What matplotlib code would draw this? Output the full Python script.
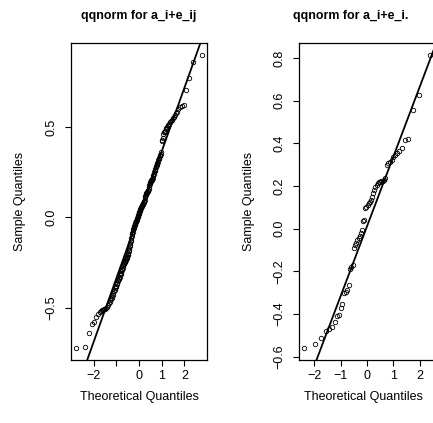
import numpy as np
import matplotlib.pyplot as plt
from statistics import NormalDist

plt.rcParams['font.family'] = ['Liberation Sans', 'DejaVu Sans']

# === данные ===
# левая панель: a_i+e_ij (180 точек, уже отсортированы)
left_sample = [
    -0.725, -0.720, -0.640, -0.588, -0.578, -0.550, -0.535, -0.525, -0.520, -0.515,
    -0.512, -0.508, -0.505, -0.500, -0.495, -0.488, -0.475, -0.468, -0.460, -0.452,
    -0.445, -0.438, -0.430, -0.420, -0.410, -0.400, -0.392, -0.385, -0.378, -0.370,
    -0.362, -0.355, -0.348, -0.342, -0.335, -0.328, -0.322, -0.315, -0.308, -0.300,
    -0.292, -0.285, -0.278, -0.270, -0.262, -0.258, -0.255, -0.249, -0.245, -0.240,
    -0.235, -0.230, -0.225, -0.220, -0.215, -0.208, -0.202, -0.195, -0.188, -0.180,
    -0.170, -0.161, -0.151, -0.142, -0.133, -0.123, -0.114, -0.104, -0.095, -0.087,
    -0.079, -0.072, -0.065, -0.059, -0.053, -0.047, -0.042, -0.037, -0.032, -0.027,
    -0.023, -0.019, -0.014, -0.009, -0.003, 0.003, 0.009, 0.014, 0.019, 0.023,
    0.028, 0.032, 0.037, 0.042, 0.047, 0.050, 0.052, 0.056, 0.060, 0.064,
    0.068, 0.072, 0.075, 0.078, 0.082, 0.087, 0.092, 0.097, 0.110, 0.118,
    0.123, 0.128, 0.133, 0.137, 0.139, 0.141, 0.144, 0.148, 0.153, 0.158,
    0.170, 0.177, 0.183, 0.189, 0.194, 0.199, 0.202, 0.205, 0.209, 0.214,
    0.220, 0.226, 0.233, 0.240, 0.252, 0.258, 0.264, 0.270, 0.276, 0.282,
    0.288, 0.294, 0.300, 0.308, 0.315, 0.322, 0.330, 0.338, 0.345, 0.352,
    0.360, 0.420, 0.430, 0.440, 0.460, 0.470, 0.475, 0.480, 0.488, 0.495,
    0.500, 0.505, 0.510, 0.518, 0.525, 0.532, 0.540, 0.550, 0.558, 0.565,
    0.575, 0.585, 0.600, 0.610, 0.614, 0.620, 0.705, 0.772, 0.858, 0.900,
]
# правая панель: a_i+e_i. (60 точек)
right_sample = [
    -0.561, -0.540, -0.512, -0.480, -0.472, -0.462, -0.436, -0.410, -0.405, -0.370,
    -0.355, -0.300, -0.295, -0.290, -0.265, -0.190, -0.178, -0.170, -0.090, -0.075,
    -0.065, -0.055, -0.045, -0.035, -0.020, -0.005, 0.035, 0.040, 0.095, 0.103,
    0.110, 0.119, 0.127, 0.135, 0.150, 0.166, 0.181, 0.195, 0.205, 0.213,
    0.218, 0.220, 0.223, 0.225, 0.228, 0.236, 0.300, 0.307, 0.315, 0.322,
    0.337, 0.347, 0.355, 0.365, 0.380, 0.415, 0.420, 0.558, 0.628, 0.816,
]

# qqline (intercept, slope)
left_line = (0.013, 0.352)
right_line = (0.011, 0.3265)

titles = ['qqnorm for a_i+e_ij', 'qqnorm for a_i+e_i.']
left_xticks = [-2, -1, 0, 1, 2]
left_xticklabels = ['\u22122', '', '0', '1', '2']
left_yticks = [-0.5, 0.0, 0.5]
right_xticks = [-2, -1, 0, 1, 2]
right_xticklabels = ['\u22122', '\u22121', '0', '1', '2']
right_yticks = [-0.6, -0.4, -0.2, 0.0, 0.2, 0.4, 0.6, 0.8]

W, H = 433, 423


def ppoints(n):
    a = 3 / 8 if n <= 10 else 0.5
    return [(i + 1 - a) / (n + 1 - 2 * a) for i in range(n)]


def r_range(v):
    lo, hi = min(v), max(v)
    d = (hi - lo) * 0.04
    return lo - d, hi + d


def qq_panel(ax, sample, line, xticks, xticklabels, yticks):
    y = np.sort(np.array(sample))
    x = np.array([NormalDist().inv_cdf(p) for p in ppoints(len(y))])
    ax.plot(x, y, 'o', mfc='none', mec='black', mew=0.6, ms=3.2)
    ax.axline((0, line[0]), slope=line[1], color='black', lw=1.3)
    ax.set_xlim(*r_range(x))
    ax.set_ylim(*r_range(y))
    ax.set_xticks(xticks)
    ax.set_xticklabels(xticklabels)
    ax.set_yticks(yticks)
    ax.set_yticklabels([f'{t:.1f}'.replace('-', '\u2212') for t in yticks],
                       rotation=90, va='center')
    ax.tick_params(length=4.5, width=0.8, labelsize=9, direction='out')
    ax.tick_params(axis='x', pad=3)
    ax.tick_params(axis='y', pad=5)
    for s in ax.spines.values():
        s.set_linewidth(0.9)


fig = plt.figure(figsize=(W / 100, H / 100), dpi=100)
ax1 = fig.add_axes([71 / W, 63 / H, 136 / W, 317 / H])
ax2 = fig.add_axes([299 / W, 63 / H, 136 / W, 317 / H])

qq_panel(ax1, left_sample, left_line, left_xticks, left_xticklabels, left_yticks)
qq_panel(ax2, right_sample, right_line, right_xticks, right_xticklabels, right_yticks)

# подписи как в R
fig.text(139 / W, 1 - 16 / H, titles[0], ha='center', va='center',
         fontsize=8.9, fontweight='bold')
fig.text(351 / W, 1 - 16 / H, titles[1], ha='center', va='center',
         fontsize=8.9, fontweight='bold')
fig.text(139 / W, 1 - 397 / H, 'Theoretical Quantiles', ha='center', va='center', fontsize=9)
fig.text(363 / W, 1 - 397 / H, 'Theoretical Quantiles', ha='center', va='center', fontsize=9)
fig.text(20 / W, 1 - 201 / H, 'Sample Quantiles', ha='center', va='center',
         rotation=90, fontsize=9)
fig.text(249 / W, 1 - 201 / H, 'Sample Quantiles', ha='center', va='center',
         rotation=90, fontsize=9)

fig.savefig('out.png', dpi=100)
